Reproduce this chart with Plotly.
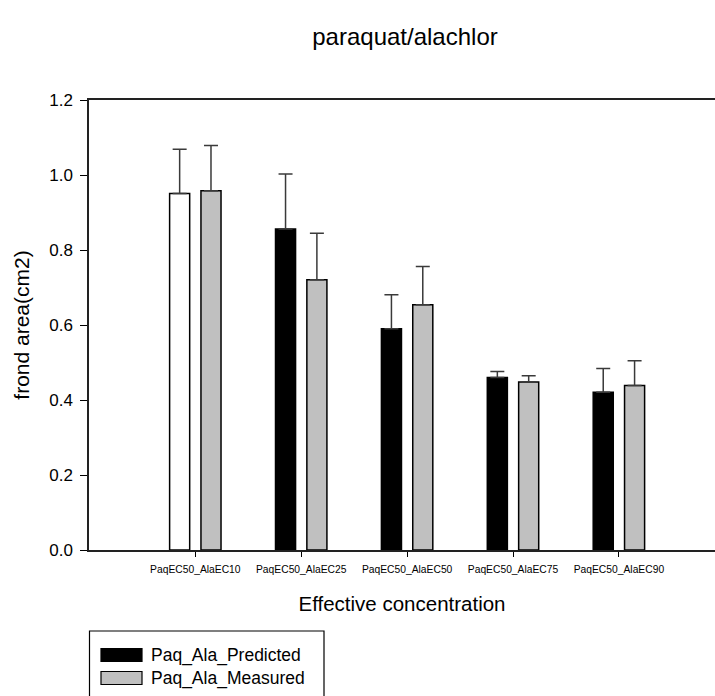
import plotly.graph_objects as go

categories = ["PaqEC50_AlaEC10", "PaqEC50_AlaEC25", "PaqEC50_AlaEC50",
              "PaqEC50_AlaEC75", "PaqEC50_AlaEC90"]
predicted = [0.951, 0.856, 0.590, 0.460, 0.421]
predicted_err = [0.118, 0.147, 0.091, 0.016, 0.063]
measured = [0.958, 0.721, 0.654, 0.448, 0.439]
measured_err = [0.121, 0.124, 0.102, 0.017, 0.066]
predicted_colors = ["white", "black", "black", "black", "black"]
y_ticks = [0.0, 0.2, 0.4, 0.6, 0.8, 1.0, 1.2]

FONT = "Arial, Liberation Sans, sans-serif"
W, H = 715, 696
L, R, T, B = 89, 0, 100, 146
pw = W - L - R
ph = H - T - B

fig = go.Figure()
fig.add_trace(go.Bar(
    name="Paq_Ala_Predicted", x=list(range(len(categories))), y=predicted,
    marker=dict(color=predicted_colors, line=dict(color="black", width=1.5)),
    error_y=dict(type="data", array=predicted_err, arrayminus=[0] * len(predicted),
                 symmetric=False, color="#3a3a3a", thickness=1.5, width=7),
    showlegend=False,
))
fig.add_trace(go.Bar(
    name="Paq_Ala_Measured", x=list(range(len(categories))), y=measured,
    marker=dict(color="#c0c0c0", line=dict(color="black", width=1.5)),
    error_y=dict(type="data", array=measured_err, arrayminus=[0] * len(measured),
                 symmetric=False, color="#3a3a3a", thickness=1.5, width=7),
    showlegend=False,
))

# custom legend (paper coordinates)
def px_x(x):
    return (x - L) / pw

def px_y(y):
    return (H - B - y) / ph

shapes = [dict(type="rect", xref="paper", yref="paper",
               x0=px_x(89.5), x1=px_x(324), y0=px_y(631), y1=px_y(720),
               line=dict(color="black", width=1.2), fillcolor="white", layer="above")]
legend_items = [("Paq_Ala_Predicted", "black", 655), ("Paq_Ala_Measured", "#c0c0c0", 678)]
annotations = []
for name, col, yc in legend_items:
    shapes.append(dict(type="rect", xref="paper", yref="paper",
                       x0=px_x(101), x1=px_x(142), y0=px_y(yc - 6.5), y1=px_y(yc + 6.5),
                       line=dict(color="black", width=1.2), fillcolor=col, layer="above"))
    annotations.append(dict(text=name, xref="paper", yref="paper", x=px_x(149), y=px_y(yc),
                            xanchor="left", yanchor="middle", showarrow=False,
                            font=dict(family=FONT, size=17.5, color="black")))

fig.update_layout(
    width=W, height=H,
    margin=dict(l=L, r=R, t=T, b=B, pad=0),
    plot_bgcolor="white", paper_bgcolor="white",
    barmode="group", bargap=0.408, bargroupgap=0.36,
    font=dict(family=FONT, color="black"),
    title=dict(text="paraquat/alachlor", x=px_x(405), xref="paper", xanchor="center",
               y=1 - 37 / H, yref="container", yanchor="middle",
               font=dict(family=FONT, size=24, color="black")),
    xaxis=dict(
        range=[-1.004, (715 - 195.3) / 105.9],
        tickmode="array", tickvals=list(range(len(categories))), ticktext=categories,
        ticks="outside", ticklen=5, tickwidth=1, tickcolor="black",
        ticklabelstandoff=4,
        tickfont=dict(family=FONT, size=10.3, color="black"),
        showline=True, linecolor="#222", linewidth=1.5, mirror=True,
        showgrid=False, zeroline=False,
        title=dict(text="Effective concentration", standoff=23,
                   font=dict(family=FONT, size=20.5, color="black")),
    ),
    yaxis=dict(
        range=[0, 1.2],
        tickmode="array", tickvals=y_ticks, ticktext=[f"{v:.1f}" for v in y_ticks],
        ticks="outside", ticklen=7, tickwidth=1, tickcolor="black",
        ticklabelstandoff=4,
        tickfont=dict(family=FONT, size=17, color="black"),
        showline=True, linecolor="#222", linewidth=1.5, mirror=False,
        showgrid=False, zeroline=False,
        title=dict(text="frond area(cm2)", standoff=14,
                   font=dict(family=FONT, size=21, color="black")),
    ),
    shapes=shapes,
    annotations=annotations,
)

fig.write_html("out.html")
